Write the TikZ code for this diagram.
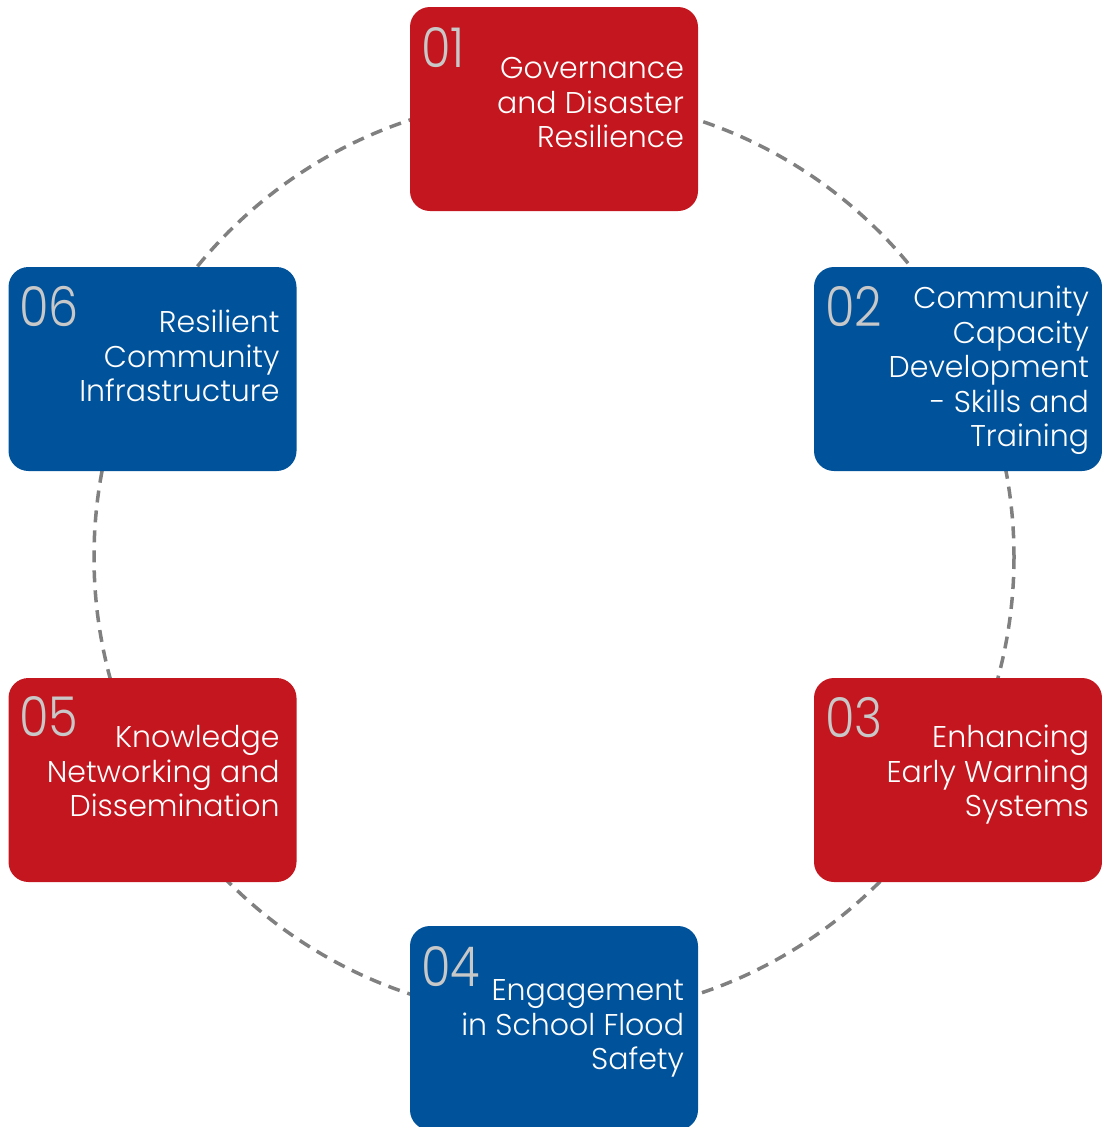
\documentclass[tikz,border=0pt]{standalone}
\usepackage{fontspec}
\setmainfont{Poppins Light}
\newfontfamily\numfont{Poppins Light}[FakeStretch=0.87]
\definecolor{boxred}{RGB}{196,22,30}
\definecolor{boxblue}{RGB}{0,82,155}
\definecolor{numgrey}{RGB}{200,200,200}
\definecolor{ringgrey}{RGB}{128,128,128}
\begin{document}
\begin{tikzpicture}[x=1pt, y=-1pt,
    topic/.style ={rectangle, rounded corners=20pt, minimum width=288pt,
      minimum height=204pt, inner sep=0pt},
    redtopic/.style ={topic, fill=boxred},
    bluetopic/.style ={topic, fill=boxblue},
    number/.style ={inner sep=0pt, text=numgrey, font=\numfont\fontsize{55}{55}\selectfont},
    topictext/.style ={inner sep=0pt, text=white, align=right,
      font=\fontsize{30}{34.5}\selectfont},
    ring/.style ={ringgrey, line width=3.5pt, dash pattern=on 12pt off 8pt}]
   \useasboundingbox (0,0) rectangle (1102,1127);

   \coordinate (hub) at (554,557);
   \draw[ring] (hub) circle (460);

   \node[redtopic]  (T1) at (554,109)   {};
   \node[bluetopic] (T2) at (958,369)   {};
   \node[redtopic]  (T3) at (958,780)   {};
   \node[bluetopic] (T4) at (554,1028)  {};
   \node[redtopic]  (T5) at (152.5,780) {};
   \node[bluetopic] (T6) at (152.5,369) {};

   \node[number, anchor=base west] (N1) at ([shift={(11,61)}]T1.north west) {01};
   \node[number, anchor=base west] (N2) at ([shift={(11,60)}]T2.north west) {02};
   \node[number, anchor=base west] (N3) at ([shift={(11,60)}]T3.north west) {03};
   \node[number, anchor=base west] (N4) at ([shift={(11,61)}]T4.north west) {04};
   \node[number, anchor=base west] (N5) at ([shift={(11,59)}]T5.north west) {05};
   \node[number, anchor=base west] (N6) at ([shift={(11,60)}]T6.north west) {06};

   % base east = baseline of the last line
   \node[topictext, anchor=base east] (L1) at ([shift={(-14,141)}]T1.north east)
     {Governance\\and Disaster\\Resilience};
   \node[topictext, anchor=base east] (L2) at ([shift={(-13,180)}]T2.north east)
     {Community\\Capacity\\Development\\- Skills and\\Training};
   \node[topictext, anchor=base east] (L3) at ([shift={(-13,139)}]T3.north east)
     {Enhancing\\Early Warning\\Systems};
   \node[topictext, anchor=base east] (L4) at ([shift={(-14,144)}]T4.north east)
     {Engagement\\in School Flood\\Safety};
   \node[topictext, anchor=base east] (L5) at ([shift={(-17,139)}]T5.north east)
     {Knowledge\\Networking and\\Dissemination};
   \node[topictext, anchor=base east] (L6) at ([shift={(-17,135)}]T6.north east)
     {Resilient\\Community\\Infrastructure};
 \end{tikzpicture}
\end{document}
